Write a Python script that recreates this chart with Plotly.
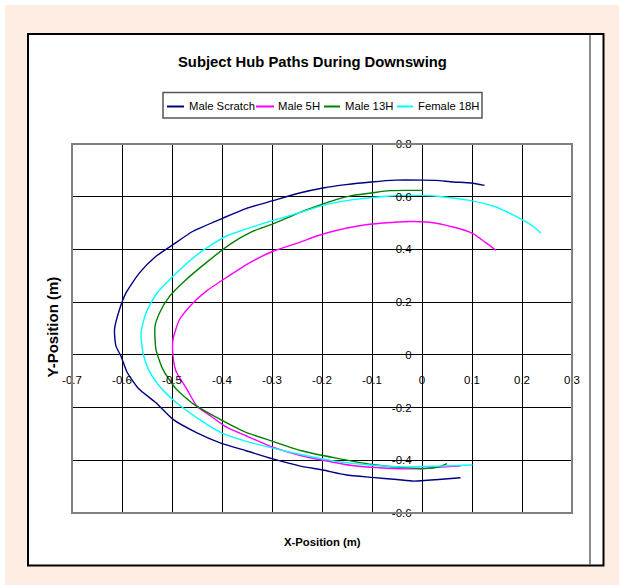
import plotly.graph_objects as go

# ---------------- data ----------------
series_names = ["Male Scratch", "Male 5H", "Male 13H", "Female 18H"]
series_colors = ["#000080", "#FF00FF", "#008000", "#00FFFF"]

scratch_x = [0.125, 0.098, 0.062, 0.028, 0.002, -0.052, -0.102, -0.152, -0.198, -0.245,
             -0.298, -0.352, -0.398, -0.458, -0.498, -0.532, -0.565, -0.592, -0.605, -0.615,
             -0.612, -0.602, -0.590, -0.567, -0.532, -0.498, -0.450, -0.401, -0.353, -0.300,
             -0.243, -0.198, -0.153, -0.100, -0.050, -0.016, 0.033, 0.077]
scratch_y = [0.643, 0.652, 0.656, 0.662, 0.663, 0.663, 0.656, 0.646, 0.633, 0.614,
             0.585, 0.555, 0.519, 0.469, 0.418, 0.374, 0.311, 0.235, 0.172, 0.096,
             0.033, -0.005, -0.065, -0.128, -0.182, -0.245, -0.296, -0.336, -0.363, -0.394,
             -0.422, -0.437, -0.455, -0.465, -0.473, -0.479, -0.473, -0.466]

m5_x = [0.148, 0.128, 0.102, 0.062, 0.015, -0.025, -0.078, -0.125, -0.172, -0.212,
        -0.245, -0.298, -0.345, -0.398, -0.432, -0.458, -0.485, -0.498, -0.498, -0.492,
        -0.470, -0.450, -0.422, -0.394, -0.353, -0.300, -0.243, -0.198, -0.140, -0.071,
        -0.002, 0.033, 0.077]
m5_y = [0.397, 0.425, 0.460, 0.485, 0.503, 0.506, 0.500, 0.490, 0.472, 0.450,
        0.427, 0.393, 0.349, 0.285, 0.241, 0.197, 0.134, 0.058, -0.005, -0.062,
        -0.131, -0.195, -0.233, -0.271, -0.306, -0.349, -0.382, -0.400, -0.420, -0.430,
        -0.432, -0.426, -0.422]

m13_x = [0.002, -0.025, -0.065, -0.102, -0.138, -0.172, -0.212, -0.245, -0.298, -0.338,
         -0.385, -0.432, -0.472, -0.505, -0.525, -0.534, -0.532, -0.518, -0.491, -0.456,
         -0.422, -0.353, -0.300, -0.243, -0.174, -0.100, -0.036, -0.002, 0.033, 0.050]
m13_y = [0.624, 0.624, 0.623, 0.614, 0.605, 0.589, 0.563, 0.540, 0.497, 0.469,
         0.418, 0.349, 0.285, 0.222, 0.159, 0.108, 0.020, -0.056, -0.131, -0.188,
         -0.226, -0.293, -0.327, -0.363, -0.391, -0.416, -0.428, -0.431, -0.426, -0.413]

f18_x = [0.238, 0.222, 0.188, 0.148, 0.095, 0.035, -0.025, -0.078, -0.138, -0.192,
         -0.258, -0.325, -0.392, -0.445, -0.498, -0.532, -0.552, -0.562, -0.558, -0.547,
         -0.525, -0.491, -0.450, -0.401, -0.353, -0.300, -0.243, -0.174, -0.105, -0.036,
         0.033, 0.101]
f18_y = [0.462, 0.488, 0.525, 0.561, 0.586, 0.601, 0.605, 0.601, 0.589, 0.570,
         0.532, 0.494, 0.450, 0.387, 0.298, 0.229, 0.159, 0.083, 0.008, -0.056,
         -0.119, -0.182, -0.239, -0.296, -0.327, -0.353, -0.378, -0.403, -0.418, -0.425,
         -0.422, -0.418]

x_ticks = [-0.7, -0.6, -0.5, -0.4, -0.3, -0.2, -0.1, 0.0, 0.1, 0.2, 0.3]
x_tick_labels = ["-0.7", "-0.6", "-0.5", "-0.4", "-0.3", "-0.2", "-0.1", "0", "0.1", "0.2", "0.3"]
y_ticks = [-0.6, -0.4, -0.2, 0.0, 0.2, 0.4, 0.6, 0.8]
y_tick_labels = ["-0.6", "-0.4", "-0.2", "0", "0.2", "0.4", "0.6", "0.8"]

title_text = "Subject Hub Paths During Downswing"
x_title = "X-Position (m)"
y_title = "Y-Position (m)"

# ---------------- layout helpers ----------------
W, H = 619, 585
ML, MR, MT, MB = 72, 47, 144, 72
PW, PH = W - ML - MR, H - MT - MB
XR, YR = [-0.7, 0.3], [-0.6, 0.8]


def px(x):
    return (x - ML) / PW


def py(y):
    return (H - MB - y) / PH


FONT = "Liberation Sans, Arial, sans-serif"

fig = go.Figure()
all_x = [scratch_x, m5_x, m13_x, f18_x]
all_y = [scratch_y, m5_y, m13_y, f18_y]
for name, col, xs, ys in zip(series_names, series_colors, all_x, all_y):
    fig.add_trace(go.Scatter(x=xs, y=ys, mode="lines", name=name,
                             line=dict(color=col, width=1.4, shape="spline", smoothing=0.6),
                             showlegend=False, hoverinfo="skip"))

shapes = []
# salmon page background (white thin strips at top/left)
shapes.append(dict(type="rect", xref="paper", yref="paper", x0=px(5), x1=px(W + 2),
                   y0=py(5), y1=py(H + 2), fillcolor="#FDEDE3", line=dict(width=0), layer="below"))
# white chart frame
shapes.append(dict(type="rect", xref="paper", yref="paper", x0=px(28), x1=px(603.5),
                   y0=py(34), y1=py(565.5), fillcolor="white",
                   line=dict(color="black", width=2), layer="below"))
# inner grey vertical line
shapes.append(dict(type="line", xref="paper", yref="paper", x0=px(590), x1=px(590),
                   y0=py(35), y1=py(564.5), line=dict(color="#666666", width=1.5), layer="below"))
# plot-area border
shapes.append(dict(type="rect", xref="paper", yref="paper", x0=0, x1=1, y0=0, y1=1,
                   line=dict(color="#808080", width=2), layer="above"))

# legend box with line samples
shapes.append(dict(type="rect", xref="paper", yref="paper", x0=px(163), x1=px(482),
                   y0=py(92.5), y1=py(118), fillcolor="white",
                   line=dict(color="#555555", width=1.5), layer="below"))
legend_line_x = [(167, 184), (256, 274), (324, 340), (397, 413)]
legend_text_x = [186.5, 275.5, 342.5, 415.5]
annotations = []
for (a, b), tx, name, col in zip(legend_line_x, legend_text_x, series_names, series_colors):
    shapes.append(dict(type="line", xref="paper", yref="paper", x0=px(a), x1=px(b),
                       y0=py(106.5), y1=py(106.5), line=dict(color=col, width=2)))
    annotations.append(dict(xref="paper", yref="paper", x=px(tx), y=py(106), text=name,
                            showarrow=False, xanchor="left", yanchor="middle",
                            font=dict(family=FONT, size=11.3, color="black")))

annotations.append(dict(xref="paper", yref="paper", x=px(312), y=py(62), text="<b>%s</b>" % title_text,
                        showarrow=False, xanchor="center", yanchor="middle",
                        font=dict(family=FONT, size=14.8, color="black")))
annotations.append(dict(xref="paper", yref="paper", x=px(322.5), y=py(541.5), text="<b>%s</b>" % x_title,
                        showarrow=False, xanchor="center", yanchor="middle",
                        font=dict(family=FONT, size=11.3, color="black")))
annotations.append(dict(xref="paper", yref="paper", x=px(51.5), y=py(327), text="<b>%s</b>" % y_title,
                        showarrow=False, xanchor="center", yanchor="middle", textangle=-90,
                        font=dict(family=FONT, size=15, color="black")))

fig.update_layout(
    width=W, height=H,
    margin=dict(l=ML, r=MR, t=MT, b=MB, pad=0),
    paper_bgcolor="white",
    plot_bgcolor="rgba(0,0,0,0)",
    shapes=shapes,
    annotations=annotations,
    showlegend=False,
    xaxis=dict(range=XR, tickvals=x_ticks, ticktext=x_tick_labels,
               showgrid=True, gridcolor="black", gridwidth=1, zeroline=False,
               showline=False,
               anchor="free", position=(0 - YR[0]) / (YR[1] - YR[0]),
               ticks="outside", ticklen=5, tickcolor="black", tickwidth=1,
               ticklabelstandoff=9,
               tickfont=dict(family=FONT, size=11.5, color="black"), fixedrange=True),
    yaxis=dict(range=YR, tickvals=y_ticks, ticktext=y_tick_labels,
               showgrid=True, gridcolor="black", gridwidth=1, zeroline=False,
               showline=False,
               anchor="free", position=(0 - XR[0]) / (XR[1] - XR[0]),
               ticks="outside", ticklen=5, tickcolor="black", tickwidth=1,
               ticklabelstandoff=3,
               tickfont=dict(family=FONT, size=11.5, color="black"), fixedrange=True),
)

fig.write_html("out.html")
